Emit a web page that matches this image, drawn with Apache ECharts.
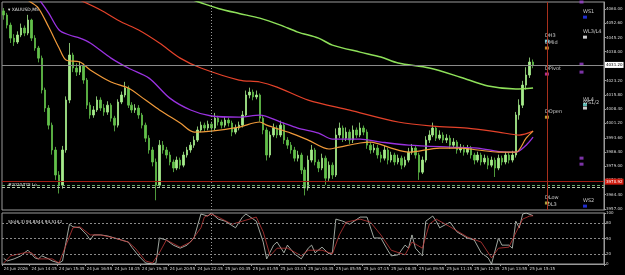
<!DOCTYPE html>
<html><head><meta charset="utf-8">
<script src="https://cdn.jsdelivr.net/npm/echarts@6/dist/echarts.min.js"></script>
<style>html,body{margin:0;padding:0;background:#000;overflow:hidden}#c{width:625px;height:275px}</style>
</head><body><div id="c"></div>
<script>
const symbolTitle = 'XAUUSD,M5';
const stochTitle = 'Sto(6,3) 94.8544 94.5142';
const leftLevelText = '#2020/TDI Lo';
const timeLabels = ['24 Jun 2026','24 Jun 14:15','24 Jun 15:35','24 Jun 16:55','24 Jun 18:15','24 Jun 19:35','24 Jun 20:55','24 Jun 22:15',
  '25 Jun 00:35','25 Jun 01:55','25 Jun 03:15','25 Jun 04:35','25 Jun 05:55','25 Jun 07:15','25 Jun 08:35','25 Jun 09:55',
  '25 Jun 11:15','25 Jun 12:35','25 Jun 13:55','25 Jun 15:15'];
const priceTicks = [3957.00,3964.40,3971.80,3979.00,3986.40,3993.60,4001.20,4008.40,4015.80,4023.20,4030.40,4038.00,4045.20,4052.60,4060.00];
const stochTicks = [0,20,50,80,100];
const stochLevels = [20,50,80];

const opens = [4059.0,4056.9,4051.7,4045.0,4043.0,4046.6,4050.2,4047.6,4054.3,4045.0,
4039.9,4034.7,4018.3,4009.0,4000.2,3987.4,3974.5,3969.3,3987.4,4013.1,
4036.3,4029.6,4027.5,4030.6,4023.4,4010.5,4005.4,4008.0,4013.1,4009.0,
4006.9,4010.5,4003.8,4000.2,4012.1,4015.7,4019.3,4010.5,4008.0,4009.0,
4005.4,4000.2,3993.5,3987.4,3981.2,3969.3,3989.9,3987.4,3984.8,3981.2,
3978.1,3982.2,3979.6,3984.8,3987.4,3989.9,3992.5,3997.7,4000.2,3998.7,
4000.7,3998.7,4003.8,4001.8,4000.2,4002.8,4001.3,3996.6,3998.7,4000.2,
4005.4,4015.7,4017.2,4014.7,4015.7,4003.8,3997.7,3984.8,3995.1,3998.7,
3995.1,4000.2,3992.5,3989.9,3987.4,3983.2,3984.8,3977.1,3967.8,3982.2,
3987.4,3981.2,3978.1,3983.2,3972.9,3979.6,3974.5,3995.1,3998.7,3993.5,
3996.6,3992.5,3997.7,3995.1,3998.7,3996.6,3989.9,3987.4,3988.4,3984.8,
3983.2,3987.4,3982.2,3984.8,3981.2,3983.2,3979.6,3982.2,3986.3,3988.4,
3984.8,3976.0,3982.2,3992.5,3995.1,3998.7,3993.5,3995.1,3992.5,3993.5,
3989.9,3991.5,3987.4,3988.4,3986.3,3988.4,3984.8,3982.2,3984.8,3981.2,
3983.2,3979.6,3982.2,3978.1,3983.2,3981.2,3984.8,3982.2,3984.8,4005.4,
4010.5,4020.8,4026.0,4032.7];
const closes = [4056.9,4051.7,4045.0,4043.0,4046.6,4050.2,4047.6,4054.3,4045.0,4039.9,
4034.7,4018.3,4009.0,4000.2,3987.4,3974.5,3969.3,3987.4,4013.1,4036.3,
4029.6,4027.5,4030.6,4023.4,4010.5,4005.4,4008.0,4013.1,4009.0,4006.9,
4010.5,4003.8,4000.2,4012.1,4015.7,4019.3,4010.5,4008.0,4009.0,4005.4,
4000.2,3993.5,3987.4,3981.2,3969.3,3989.9,3987.4,3984.8,3981.2,3978.1,
3982.2,3979.6,3984.8,3987.4,3989.9,3992.5,3997.7,4000.2,3998.7,4000.7,
3998.7,4003.8,4001.8,4000.2,4002.8,4001.3,3996.6,3998.7,4000.2,4005.4,
4015.7,4017.2,4014.7,4015.7,4003.8,3997.7,3984.8,3995.1,3998.7,3995.1,
4000.2,3992.5,3989.9,3987.4,3983.2,3984.8,3977.1,3967.8,3982.2,3987.4,
3981.2,3978.1,3983.2,3972.9,3979.6,3974.5,3995.1,3998.7,3993.5,3996.6,
3992.5,3997.7,3995.1,3998.7,3996.6,3989.9,3987.4,3988.4,3984.8,3983.2,
3987.4,3982.2,3984.8,3981.2,3983.2,3979.6,3982.2,3986.3,3988.4,3984.8,
3976.0,3982.2,3992.5,3995.1,3998.7,3993.5,3995.1,3992.5,3993.5,3989.9,
3991.5,3987.4,3988.4,3986.3,3988.4,3984.8,3982.2,3984.8,3981.2,3983.2,
3979.6,3982.2,3978.1,3983.2,3981.2,3984.8,3982.2,3984.8,4005.4,4010.5,
4020.8,4026.0,4032.7,4031.1];
const highs = [4060.5,4058.0,4053.0,4047.0,4048.5,4052.5,4051.5,4057.0,4055.0,4046.5,
4041.0,4036.0,4019.5,4010.5,4001.5,3989.0,3976.5,3989.5,4015.0,4042.5,
4037.5,4032.0,4033.0,4032.0,4024.5,4012.0,4010.0,4015.0,4014.5,4011.0,
4012.5,4011.5,4005.0,4013.5,4017.5,4022.5,4020.5,4012.0,4011.0,4010.5,
4006.5,4001.5,3995.0,3989.0,3983.0,3992.5,3992.0,3989.0,3986.5,3982.5,
3984.0,3983.5,3986.5,3989.0,3991.5,3994.5,3999.5,4002.0,4001.5,4002.5,
4002.0,4006.5,4005.0,4003.0,4004.5,4004.0,4002.5,4000.5,4002.0,4007.5,
4018.0,4019.5,4018.5,4018.0,4016.5,4005.0,3999.0,3997.0,4001.0,4000.0,
4002.5,4001.5,3994.0,3991.5,3989.0,3987.0,3986.0,3978.5,3984.5,3990.0,
3988.5,3982.5,3985.5,3984.5,3981.5,3981.0,3998.5,4001.5,4000.0,3999.0,
3998.0,4000.0,3999.0,4001.5,4000.0,3998.0,3991.5,3990.5,3990.0,3986.5,
3989.5,3988.5,3986.5,3986.0,3985.0,3984.5,3984.0,3988.5,3990.5,3989.5,
3986.0,3984.0,3994.5,3997.5,4001.5,3999.5,3997.5,3996.5,3995.5,3995.0,
3993.5,3992.5,3990.5,3990.0,3990.0,3989.5,3986.0,3986.5,3986.0,3985.0,
3984.5,3984.0,3983.5,3985.0,3984.5,3986.5,3986.0,3987.0,4007.0,4013.5,
4023.0,4030.0,4035.0,4034.0];
const lows = [4054.5,4050.0,4042.5,4041.0,4042.0,4045.5,4046.0,4046.5,4043.5,4038.5,
4032.5,4016.5,4007.0,3998.0,3985.0,3972.0,3965.0,3967.5,3986.0,4011.5,
4027.5,4025.5,4026.0,4021.5,4008.5,4003.5,4004.0,4007.0,4007.5,4005.0,
4005.5,4002.0,3997.0,3999.0,4011.0,4014.5,4009.0,4006.5,4006.5,4003.5,
3998.5,3991.5,3985.5,3979.0,3961.5,3968.0,3985.5,3983.0,3979.5,3976.0,
3977.0,3977.5,3978.5,3983.5,3986.0,3988.5,3991.5,3996.5,3997.0,3997.5,
3996.5,3997.5,4000.0,3998.5,3999.0,3999.5,3994.5,3995.5,3997.5,3999.0,
4004.5,4014.0,4013.0,4013.5,4002.0,3995.5,3982.0,3983.5,3994.0,3993.5,
3994.0,3990.5,3988.0,3985.5,3981.5,3981.5,3975.0,3964.0,3966.5,3981.0,
3979.5,3976.0,3977.0,3969.5,3971.5,3972.5,3973.5,3993.5,3991.5,3992.0,
3990.5,3991.0,3993.5,3994.0,3995.0,3988.0,3985.5,3986.0,3983.0,3981.0,
3982.0,3980.0,3981.0,3979.5,3980.0,3977.5,3978.5,3981.0,3985.0,3983.0,
3972.0,3975.0,3981.0,3991.0,3994.0,3992.0,3992.5,3991.0,3991.0,3988.0,
3988.5,3985.5,3986.0,3984.5,3985.0,3983.0,3980.0,3981.0,3979.5,3980.0,
3977.5,3978.5,3973.5,3977.0,3979.5,3980.0,3980.5,3981.0,3983.5,4003.0,
4009.0,4018.5,4024.5,4029.5];

// moving averages as [bar index, price]
const maGreen = [[54,4065.1],[57,4063.2],[62,4060.3],[68,4057.7],[74,4055.3],[80,4051.7],[85,4048.1],[91,4045.0],[95,4041.4],[103,4037.8],[109,4035.3],[114,4032.2],[123,4029.6],[132,4024.9],[140,4020.3],[148,4018.8],[153,4019.3]];
const maRed = [[19,4066.7],[22,4064.6],[28,4059.5],[34,4053.3],[39,4049.2],[45,4042.5],[51,4034.7],[57,4029.6],[68,4023.4],[74,4022.4],[79,4019.8],[88,4013.1],[100,4007.9],[114,4001.8],[124,3999.7],[134,3998.7],[143,3996.6],[149,3995.1],[153,3997.1]];
const maPurple = [[9,4067.2],[10,4065.4],[13,4057.9],[16,4049.2],[19,4046.6],[22,4045.0],[25,4042.5],[31,4034.7],[36,4029.6],[42,4024.4],[48,4014.1],[54,4008.0],[60,4004.9],[68,4004.3],[74,4005.4],[80,4001.8],[85,3998.7],[91,3996.1],[95,3993.0],[103,3993.0],[109,3991.5],[117,3989.9],[129,3988.9],[137,3988.4],[145,3986.3],[148,3986.3],[151,3989.9],[153,3994.0]];
const maOrange = [[6,4067.2],[7,4064.6],[10,4060.5],[13,4050.7],[16,4039.9],[18,4033.7],[22,4032.7],[25,4028.6],[31,4022.4],[36,4019.3],[41,4013.1],[45,4008.0],[51,4001.3],[55,3996.6],[60,3997.1],[68,3999.2],[74,4001.8],[76,4000.2],[83,3996.1],[88,3992.5],[94,3987.9],[97,3988.9],[103,3991.0],[106,3991.5],[112,3988.4],[117,3986.3],[126,3988.4],[132,3988.4],[137,3987.4],[143,3986.3],[148,3986.3],[151,3993.5],[153,3997.1]];

// stochastic %K and %D as [bar index, value]
const stochK = [[0,11],[1,6],[3,10],[5,16],[6,22],[7,27],[8,20],[9,12],[10,10],[11,16],[13,10],[14,6],[16,2],[17,6],[18,43],[19,78],[20,73],[22,71],[24,57],[25,47],[26,57],[28,57],[30,55],[32,51],[34,47],[36,43],[37,33],[39,16],[41,2],[43,0],[44,2],[45,51],[47,47],[49,37],[51,31],[53,37],[55,51],[57,98],[59,94],[60,100],[62,88],[64,84],[67,71],[69,92],[70,98],[73,84],[75,43],[76,10],[78,37],[79,43],[81,22],[82,37],[84,20],[86,10],[88,31],[89,37],[90,22],[92,33],[94,20],[95,22],[96,88],[98,84],[100,78],[103,92],[105,92],[107,51],[109,51],[111,27],[112,16],[114,18],[116,37],[117,31],[118,57],[119,31],[121,16],[122,84],[124,94],[125,84],[126,71],[129,82],[131,63],[134,51],[136,47],[138,22],[140,12],[141,0],[143,51],[144,37],[146,37],[147,31],[148,84],[149,71],[150,98],[151,100],[153,94.85]];
const stochD = [[0,2],[2,16],[6,22],[8,22],[10,10],[14,10],[16,2],[18,37],[20,71],[22,73],[25,57],[28,57],[32,51],[36,43],[38,31],[41,6],[43,2],[45,22],[47,47],[51,33],[54,43],[57,71],[58,92],[60,98],[62,92],[66,78],[69,84],[73,92],[75,63],[77,16],[79,31],[82,31],[86,16],[88,27],[92,27],[95,20],[97,57],[99,82],[103,88],[106,82],[109,57],[112,27],[116,18],[118,43],[121,31],[123,78],[125,88],[129,73],[134,53],[138,43],[141,12],[143,31],[146,33],[148,61],[150,88],[152,94],[153,94.51]];

// level lines
const currentPrice = 4031.2;
const currentPriceText = '4031.20';
const redLevel = 3971.1;
const redLevelText = '3970.92';
const dashLevels = [3969.3, 3968.1];
const crossBar = 60;
const daySepBar = 157;

// pivot markers
const dailyNames = ['DH3','DMid','DPivot','DOpen','DLow','DL3'];
const dailyValues = [4043.5, 4039.9, 4026.5, 4004.3, 3960.1, 3957.2];
const weeklyNames = ['WS1','WL3/L4','WL4','WS1/2','WS2'];
const weeklyValues = [4055.8, 4045.5, 4010.8, 4009.0, 3958.5];
const purpleValues = [4063.6, 4031.6, 4027.5, 3983.2, 3980.1];

const dailyColors = ['#5fd6e8','#f0a838','#e040b0','#f0c040','#d8c850','#d8c850'];
const weeklyColors = ['#2838ff','#ffffff','#70e8e0','#ffffff','#2838ff'];

const totalBars = 174;
const cats = Array.from({length: totalBars}, (_, i) => i);
const candles = opens.map((o, i) => [o, closes[i], lows[i], highs[i]]);

const chart = echarts.init(document.getElementById('c'), null, {renderer: 'canvas'});
const axisTxt = {color: '#d8d8d8', fontSize: 4, fontFamily: 'DejaVu Sans'};
const markerLabel = (txt) => ({show: true, formatter: txt, position: [0, -6], color: '#f0f0f0', fontSize: 5, fontFamily: 'DejaVu Sans'});

const dailyData = dailyNames.map((n, k) => ({value: [daySepBar, dailyValues[k]], itemStyle: {color: dailyColors[k]}, label: markerLabel(n), symbolSize: n === 'DL3' ? 0 : [4, 3]}));
const weeklyData = weeklyNames.map((n, k) => ({value: [168, weeklyValues[k]], itemStyle: {color: weeklyColors[k]}, label: markerLabel(n)}));
const purpleData = purpleValues.map(v => [167, v]);

chart.setOption({
  backgroundColor: '#000000',
  animation: false,
  title: [
    {text: '\u25BE ' + symbolTitle, left: 3, top: 2, textStyle: {color: '#e8e8e8', fontSize: 4.5, fontWeight: 'normal', fontFamily: 'DejaVu Sans'}},
    {text: stochTitle, left: 3, top: 215, textStyle: {color: '#e8e8e8', fontSize: 4.2, fontWeight: 'normal', fontFamily: 'DejaVu Sans'}},
    {text: leftLevelText, left: 3, top: 178, textStyle: {color: '#e0e0e0', fontSize: 4.2, fontWeight: 'normal', fontFamily: 'DejaVu Sans'}}
  ],
  grid: [
    {left: 2, right: 21, top: 2, height: 208, show: true, borderColor: '#9a9a9a', borderWidth: 1, backgroundColor: '#000', outerBoundsMode: 'none', containLabel: false},
    {left: 2, right: 21, top: 213, height: 51, show: true, borderColor: '#9a9a9a', borderWidth: 1, backgroundColor: '#000', outerBoundsMode: 'none', containLabel: false}
  ],
  xAxis: [
    {type: 'category', gridIndex: 0, data: cats, boundaryGap: true, axisLine: {show: false}, axisTick: {show: false}, axisLabel: {show: false}, splitLine: {show: false}},
    {type: 'category', gridIndex: 1, data: cats, boundaryGap: true,
      axisLine: {show: true, lineStyle: {color: '#9a9a9a'}},
      axisTick: {show: true, length: 2, interval: (i) => i % 8 === 0 && i / 8 < timeLabels.length, lineStyle: {color: '#9a9a9a'}},
      axisLabel: Object.assign({show: true, margin: 3, align: 'left', interval: (i) => i % 8 === 0 && i / 8 < timeLabels.length,
        formatter: (v, idx) => timeLabels[idx / 8] || ''}, axisTxt),
      splitLine: {show: false}}
  ],
  yAxis: [
    {type: 'value', gridIndex: 0, position: 'right', min: 3956.5, max: 4063.6, scale: true,
      axisLine: {show: true, lineStyle: {color: '#9a9a9a'}},
      axisTick: {show: true, length: 2, customValues: priceTicks, lineStyle: {color: '#9a9a9a'}},
      axisLabel: Object.assign({show: true, margin: 2, customValues: priceTicks, formatter: (v) => v.toFixed(2)}, axisTxt),
      splitLine: {show: false}},
    {type: 'value', gridIndex: 1, position: 'right', min: 0, max: 100,
      axisLine: {show: true, lineStyle: {color: '#9a9a9a'}},
      axisTick: {show: true, length: 2, customValues: stochTicks, lineStyle: {color: '#9a9a9a'}},
      axisLabel: Object.assign({show: true, margin: 2, customValues: stochTicks}, axisTxt),
      splitLine: {show: false}}
  ],
  series: [
    {type: 'candlestick', xAxisIndex: 0, yAxisIndex: 0, data: candles, barWidth: 2,
      itemStyle: {color: '#a6ec8c', color0: '#62c04a', borderColor: '#a6ec8c', borderColor0: '#62c04a', borderWidth: 0.8},
      markLine: {silent: true, symbol: 'none', animation: false,
        data: [
          {yAxis: currentPrice, lineStyle: {color: '#8a8a8a', width: 1, type: 'solid'},
            label: {show: true, position: 'end', distance: 1, formatter: currentPriceText, color: '#000', backgroundColor: '#ffffff', fontSize: 4, padding: [1, 1], fontFamily: 'DejaVu Sans'}},
          {yAxis: redLevel, lineStyle: {color: '#a01c14', width: 1, type: 'solid'},
            label: {show: true, position: 'end', distance: 1, formatter: redLevelText, color: '#fff', backgroundColor: '#d01c10', fontSize: 4, padding: [1, 1], fontFamily: 'DejaVu Sans'}},
          {yAxis: dashLevels[0], lineStyle: {color: '#6aa86a', width: 1, type: [3, 2]}, label: {show: false}},
          {yAxis: dashLevels[1], lineStyle: {color: '#b8c8b0', width: 1, type: [3, 2]}, label: {show: false}},
          {xAxis: crossBar, lineStyle: {color: '#9a9a9a', width: 1, type: [1, 2]}, label: {show: false}},
          {xAxis: daySepBar, lineStyle: {color: '#a8301c', width: 1, type: 'solid'}, label: {show: false}}
        ]}},
    {type: 'line', xAxisIndex: 0, yAxisIndex: 0, data: maGreen, showSymbol: false, smooth: 0.3, lineStyle: {color: '#8ee05a', width: 1.5}},
    {type: 'line', xAxisIndex: 0, yAxisIndex: 0, data: maRed, showSymbol: false, smooth: 0.3, lineStyle: {color: '#e4422a', width: 1.2}},
    {type: 'line', xAxisIndex: 0, yAxisIndex: 0, data: maPurple, showSymbol: false, smooth: 0.3, lineStyle: {color: '#9a32e0', width: 1.3}},
    {type: 'line', xAxisIndex: 0, yAxisIndex: 0, data: maOrange, showSymbol: false, smooth: 0.3, lineStyle: {color: '#f09a3a', width: 1.2}},
    {type: 'scatter', xAxisIndex: 0, yAxisIndex: 0, data: dailyData, symbol: 'rect', symbolSize: [4, 3], clip: false},
    {type: 'scatter', xAxisIndex: 0, yAxisIndex: 0, data: weeklyData, symbol: 'rect', symbolSize: [4, 3], clip: false},
    {type: 'scatter', xAxisIndex: 0, yAxisIndex: 0, data: purpleData, symbol: 'rect', symbolSize: [4, 3], itemStyle: {color: '#9a40d0'}},
    {type: 'line', xAxisIndex: 1, yAxisIndex: 1, data: stochK, showSymbol: false, lineStyle: {color: '#c8d0c8', width: 0.8},
      markLine: {silent: true, symbol: 'none', animation: false, label: {show: false},
        data: stochLevels.map(v => ({yAxis: v, lineStyle: {color: '#8a8a8a', width: 1, type: [2, 2]}}))
          .concat([{xAxis: crossBar, lineStyle: {color: '#9a9a9a', width: 1, type: [1, 2]}}])}},
    {type: 'line', xAxisIndex: 1, yAxisIndex: 1, data: stochD, showSymbol: false, lineStyle: {color: '#c03838', width: 0.8}}
  ]
});
</script>
</body></html>
